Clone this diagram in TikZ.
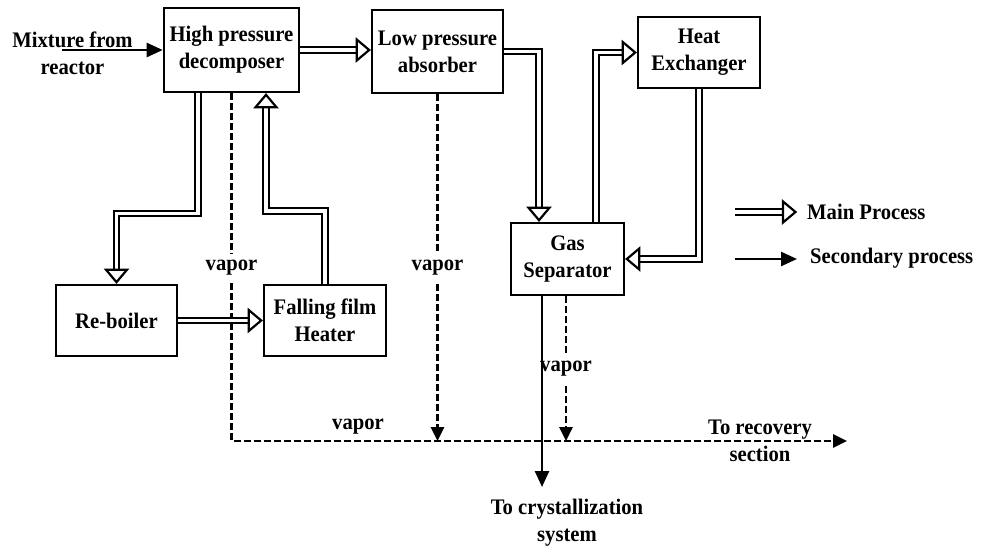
\documentclass[tikz,border=0pt]{standalone}
\usepackage{fontspec}
\setmainfont{Liberation Serif}[FakeStretch=0.93]
\usetikzlibrary{arrows.meta}
\begin{document}
\begin{tikzpicture}[x=1pt,y=-1pt,
  every node/.style={font=\fontsize{22.2}{27}\selectfont\bfseries, align=center, inner sep=0pt},
  box/.style={draw, line width=2.6pt},
  dbl/.style={line width=2pt, double=white, double distance=3.6pt},
  otip/.pic={\draw[line width=2.2pt, fill=white, line join=miter] (-1.5,0) -- (-14,-10.5) -- (-14,10.5) -- cycle;},
  sec/.style={line width=2.5pt, -{Triangle[length=16pt,width=14pt]}},
  vap/.style={line width=2.8pt, dash pattern=on 7pt off 3pt, -{Triangle[length=14pt,width=13pt]}},
  lbl/.style={fill=white, inner xsep=1pt, inner ysep=6pt}]
\fill[white] (0,0) rectangle (988,551);
\useasboundingbox (0,0) rectangle (988,551);

% boxes
\node[box, minimum width=135pt, minimum height=84pt] (hp) at (231.5,50) {High pressure\\decomposer};
\node[box, minimum width=131pt, minimum height=83pt] (lp) at (437.5,51.5) {Low pressure\\absorber};
\node[box, minimum width=122pt, minimum height=71pt] (he) at (699,52.5) {Heat\\Exchanger};
\node[box, minimum width=113pt, minimum height=72pt] (gs) at (567.5,259) {Gas\\Separator};
\node[box, minimum width=121pt, minimum height=71pt] (rb) at (116.5,320.5) {Re-boiler};
\node[box, minimum width=122pt, minimum height=71pt] (ff) at (325,320.5) {Falling film\\Heater};

% free texts
\node (mix) at (72.5,53) {Mixture from\\reactor};
\node (crys) at (567,523) {To crystallization\\system};
\node (recov) at (760,441) {To recovery\\section};
\node[anchor=west] (lmain) at (807,212) {Main Process};
\node[anchor=west] (lsec) at (810,258) {Secondary process};

% coordinates for free ends
\coordinate (mixs) at (62,50);
\coordinate (rec) at (847,441);
\coordinate (cryend) at (542,487);
\coordinate (l1s) at (735,212);
\coordinate (l1e) at (797,212);
\coordinate (l2s) at (735,259);
\coordinate (l2e) at (797,259);

% vapor (dashed) lines
\draw[vap] (hp.south) |- (rec);
\draw[vap] (lp.south) -- (lp.south |- rec);
\draw[vap] ([xshift=-1.5pt]gs.south) -- ([xshift=-1.5pt]gs.south |- rec);

% vapor labels
\node[lbl] (v1) at (231.5,268) {vapor};
\node[lbl] (v2) at (437.5,268) {vapor};
\node[lbl] (v3) at (566,369) {vapor};
\node (v4) at (358,427) {vapor};

% secondary solid arrows
\draw[sec] (mixs) -- (hp.west);
\draw[sec] ([xshift=-25.5pt]gs.south) -- ([xshift=-25.5pt]gs.south |- cryend);
\draw[sec] (l2s) -- (l2e);

% main process double lines
\draw[dbl] (hp.east) -- ([xshift=-8pt]hp.east -| lp.west);
\pic at (hp.east -| lp.west) {otip};

\draw[dbl] (lp.east) -| ([xshift=-28.5pt,yshift=8pt]gs.north);
\pic[rotate=-90] at ([xshift=-28.5pt]gs.north) {otip};

\draw[dbl] ([xshift=28.5pt]gs.north) |- ([xshift=-8pt]he.west);
\pic at (he.west) {otip};

\draw[dbl] (he.south) |- ([xshift=8pt]gs.east);
\pic[rotate=180] at (gs.east) {otip};

\draw[dbl] ([xshift=-33.5pt]hp.south) -- ++(0,120) -| ([yshift=8pt]rb.north);
\pic[rotate=-90] at (rb.north) {otip};

\draw[dbl] (ff.north) -- ++(0,-73) -| ([xshift=34.5pt,yshift=-8pt]hp.south);
\pic[rotate=90] at ([xshift=34.5pt]hp.south) {otip};

\draw[dbl] (rb.east) -- ([xshift=-8pt]ff.west);
\pic at (ff.west) {otip};

\draw[dbl] (l1s) -- ([xshift=-8pt]l1e);
\pic at (l1e) {otip};
\end{tikzpicture}
\end{document}
